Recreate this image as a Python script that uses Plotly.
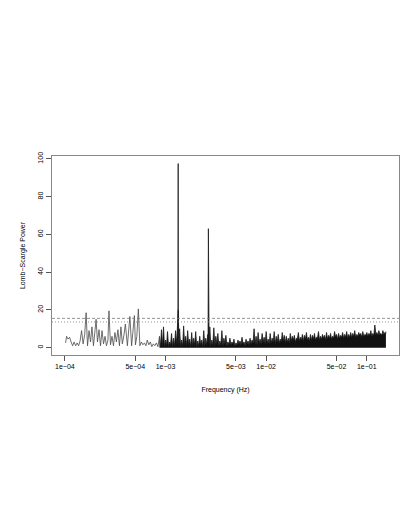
import numpy as np
import plotly.graph_objects as go

# low-frequency part of the periodogram (log10 of frequency in Hz, power)
low_logf = [-3.993, -3.983, -3.968, -3.953, -3.938, -3.923, -3.908, -3.893, -3.878, -3.864,
            -3.849, -3.834, -3.819, -3.803, -3.789, -3.775, -3.760, -3.745, -3.731, -3.716,
            -3.701, -3.690, -3.676, -3.661, -3.646, -3.631, -3.616, -3.601, -3.587, -3.572,
            -3.562, -3.547, -3.532, -3.517, -3.503, -3.488, -3.473, -3.458, -3.443, -3.429,
            -3.412, -3.399, -3.379, -3.364, -3.354, -3.337, -3.324, -3.309, -3.299, -3.285,
            -3.270, -3.255, -3.240, -3.225, -3.210, -3.195, -3.181, -3.166, -3.151, -3.136,
            -3.121, -3.106, -3.090, -3.075]
low_power = [2.5, 6, 4.5, 5.5, 3, 1, 3, 1, 2.5, 1,
             3.5, 9, 2, 7, 18.5, 1, 9, 3, 11, 1,
             9, 15, 3, 9.5, 1, 9, 2, 6, 1, 4,
             19.5, 1.5, 6, 1, 8, 3, 9.5, 1, 11, 2,
             7, 12.5, 1, 9, 16.5, 1, 8, 17, 1.5, 6,
             20.5, 1, 3, 1.5, 2.5, 1, 4, 1.5, 3, 0.5,
             2, 1, 2.5, 0.5]

# dense part: local peaks
spike_logf = [-3.06, -3.04, -3.02, -3.00, -2.98, -2.96, -2.94, -2.92, -2.90,
              -2.876, -2.875, -2.874, -2.873,
              -2.86, -2.84, -2.82, -2.80, -2.78, -2.76, -2.74, -2.72, -2.70, -2.68,
              -2.66, -2.64, -2.62, -2.60, -2.58, -2.575, -2.574,
              -2.56, -2.54, -2.52, -2.50, -2.48, -2.46, -2.44, -2.42, -2.40, -2.38,
              -2.36, -2.34, -2.32, -2.30, -2.28, -2.26, -2.24, -2.22, -2.20, -2.18,
              -2.16, -2.14, -2.12, -2.10, -2.08, -2.06, -2.04, -2.02, -2.00, -1.98,
              -1.96, -1.94, -1.92, -1.90, -1.88, -1.86, -1.84, -1.82, -1.80, -1.78,
              -1.76, -1.74, -1.72, -1.70, -1.68, -1.66, -1.64, -1.62, -1.60, -1.58,
              -1.56, -1.54, -1.52, -1.50, -1.48, -1.46, -1.44, -1.42, -1.40, -1.38,
              -1.36, -1.34, -1.32, -1.30, -1.28, -1.26, -1.24, -1.22, -1.20, -1.18,
              -1.16, -1.14, -1.12, -1.10, -1.08, -1.06, -1.04, -1.02, -1.00, -0.98,
              -0.96, -0.94, -0.92, -0.90, -0.88, -0.86, -0.84, -0.82, -0.81]
spike_power = [6, 9.5, 11, 4, 8.5, 3, 7.5, 5, 9,
               19.5, 38, 97.5, 20,
               10, 4, 11.5, 6, 9, 4.5, 8, 5, 8.5, 3.5,
               6, 4, 9, 5, 7, 27, 63,
               11, 4, 10.5, 6, 7.5, 3.5, 9, 5, 6.5, 3,
               5, 3, 4.5, 2.5, 4, 3.5, 5.5, 3, 4.5, 3.5,
               5, 4, 10, 6, 8, 4.5, 7.5, 5.5, 8.5, 4.5,
               7.5, 5, 8.5, 6, 7, 4.5, 8, 6.5, 6, 5,
               7.5, 6, 6.5, 5, 8, 5.5, 7, 6.5, 8, 5.5,
               7, 6.5, 7.5, 5.5, 8.5, 6, 7, 6.5, 8, 6.5,
               7.5, 6, 8.5, 7, 7.5, 6.5, 8, 7, 8.5, 7,
               8, 7.5, 9, 7, 8, 7.5, 8.5, 7, 8, 7.5,
               9, 7.5, 12, 8, 9, 7.5, 9, 8, 8.5]
# local minima between consecutive peaks
trough_power = [0.5, 1, 0.5, 1, 0.5, 1.5, 0.5, 1, 2,
                5, 10, 5, 1.5,
                1, 0.5, 1.5, 1, 1.5, 0.5, 1, 1.5, 0.5, 1,
                1.5, 0.5, 1, 1.5, 3, 6, 2,
                1, 1.5, 1, 2, 1, 1.5, 1, 2, 1, 1.5,
                1.5, 2, 1, 1.5, 2, 1.5, 2, 1, 2, 1.5,
                2, 2.5, 2, 1.5, 2.5, 2, 3, 2, 2.5, 2,
                2.5, 3, 2, 3, 2.5, 3, 3.5, 2.5, 3, 2.5,
                3.5, 4, 3, 4.5, 3.5, 4, 3.5, 4.5, 4, 3.5,
                4, 4.5, 4, 5, 4, 4.5, 5, 4, 4.5, 5,
                4.5, 5, 5.5, 4.5, 5, 5.5, 5, 5.5, 5, 5.5,
                5.5, 6, 5.5, 6, 6.5, 5.5, 6, 6.5, 6, 6.5,
                6, 6.5, 7, 6.5, 7, 6.5, 7, 6.5]

# significance levels
level_dashed = 15.5
level_dotted = 13.6

tick_vals = [1e-4, 5e-4, 1e-3, 5e-3, 1e-2, 5e-2, 1e-1]
tick_text = ["1e\u221204", "5e\u221204", "1e\u221203", "5e\u221203", "1e\u221202", "5e\u221202", "1e\u221201"]

# zigzag through peaks and the minima between them
zx, zy = [], []
for i in range(len(spike_logf)):
    zx.append(spike_logf[i])
    zy.append(spike_power[i])
    if i < len(trough_power):
        zx.append((spike_logf[i] + spike_logf[i + 1]) / 2)
        zy.append(trough_power[i])

low_f = 10 ** np.array(low_logf + [spike_logf[0]])
low_y = low_power + [spike_power[0]]
dense_f = 10 ** np.array(zx)

fig = go.Figure()
fig.add_trace(go.Scatter(x=dense_f, y=zy, mode="lines", fill="tozeroy", fillcolor="#111111",
                         line=dict(color="#1a1a1a", width=0.8)))
fig.add_trace(go.Scatter(x=low_f, y=low_y, mode="lines", line=dict(color="#4a4a4a", width=0.8)))

fig.add_hline(y=level_dashed, line=dict(color="#777777", width=0.8, dash="3px,2px"))
fig.add_hline(y=level_dotted, line=dict(color="#777777", width=0.8, dash="1px,2px"))

axis_font = dict(family="Liberation Sans, Arial, sans-serif", size=7, color="black")

# the page body has an 8px margin, so the figure is sized to fit the window
fig.update_layout(
    width=401, height=521,
    margin=dict(l=44, r=10, t=148, b=174),
    plot_bgcolor="white", paper_bgcolor="white",
    showlegend=False,
    font=axis_font,
    xaxis=dict(type="log", range=[-4.128, -0.68], tickvals=tick_vals, ticktext=tick_text,
               showgrid=False, zeroline=False, showline=True, mirror=True, automargin=False,
               linecolor="#888888", linewidth=1, ticks="outside", ticklen=5,
               tickcolor="#555555", tickfont=axis_font,
               title=dict(text="Frequency (Hz)", font=axis_font, standoff=17)),
    yaxis=dict(range=[-3.9, 101.5], tickvals=[0, 20, 40, 60, 80, 100], tickangle=-90,
               showgrid=False, zeroline=False, showline=True, mirror=True, automargin=False,
               linecolor="#888888", linewidth=1, ticks="outside", ticklen=5,
               tickcolor="#555555", tickfont=axis_font,
               title=dict(text="Lomb\u2212Scargle Power", font=axis_font, standoff=10)),
)

fig.write_html("out.html")
